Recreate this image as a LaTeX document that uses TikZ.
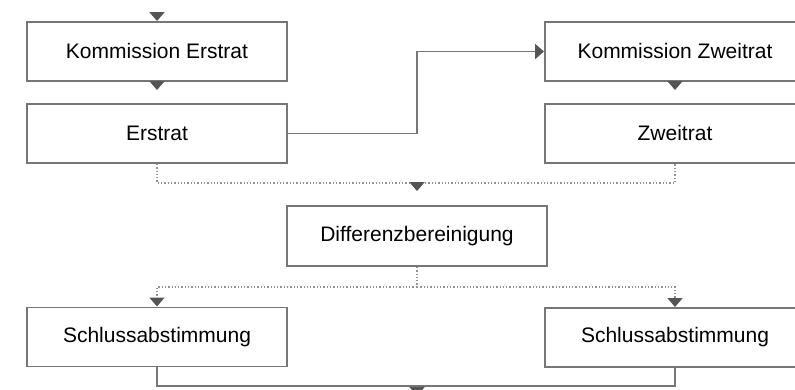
\documentclass[tikz,border=0pt]{standalone}
\usepackage{fontspec}
\setmainfont{Liberation Sans}
\usetikzlibrary{arrows.meta,positioning}

\definecolor{boxgray}{RGB}{118,118,118}
\definecolor{tipgray}{RGB}{85,85,85}
\definecolor{dotgray}{RGB}{145,145,145}

\begin{document}
\begin{tikzpicture}[x=1pt,y=1pt]
        \tikzset{stage/.style={rectangle,
                    draw=boxgray, fill=white, line width=1.9pt,
                    minimum width=260pt,
                    minimum height=59pt,
                    inner sep=0pt,
                    align=center, font=\fontsize{21}{25}\selectfont},
                 flow/.style={draw=boxgray, line width=1.9pt,
                    -{Triangle[width=15pt,length=9pt,color=tipgray]}},
                 dots/.style={draw=dotgray, line width=1.3pt, dotted}}
        \useasboundingbox (0,0) rectangle (795,390);
        % upper row
        \node[stage] (kerst) at (157,338.5) {Kommission Erstrat};
        \node[stage] (erst) at (157,256.5) {Erstrat};
        \node[stage] (kzweit) at (675,338.5) {Kommission Zweitrat};
        \node[stage] (zweit) at (675,256.5) {Zweitrat};
        % middle and lower row
        \node[stage, minimum height=60pt] (diff) at (417,154) {Differenzbereinigung};
        \node[stage] (schla) at (157,53) {Schlussabstimmung};
        \node[stage] (schlb) at (675,52.5) {Schlussabstimmung};

        \coordinate (start) at (157,377);
        \coordinate (merge) at (417,207);
        \coordinate (split) at (417,103);
        \coordinate (join) at (417,4);
        \coordinate (out) at (417,-6);

        \draw[flow] (start) -- (kerst.north);
        \draw[flow, shorten >=13pt] (kerst) -- (erst);
        \draw[flow, shorten >=13pt] (kzweit) -- (zweit);
        \draw[flow] (erst.east) -- (erst.east -| diff.north) |- (kzweit.west);

        \draw[dots] (erst.south) |- (merge) -| (zweit.south);
        \draw[flow, shorten >=14pt] (merge) -- (diff.north);

        \draw[dots] (diff.south) -- (split);
        \draw[dots, -{Triangle[width=15pt,length=9pt,color=tipgray]}] (split) -| (schla.north);
        \draw[dots, -{Triangle[width=15pt,length=9pt,color=tipgray]}] (split) -| (schlb.north);

        \draw[draw=boxgray, line width=1.9pt] (schla.south) |- (join) -| (schlb.south);
        \draw[flow] (join) -- (out);
    \end{tikzpicture}
\end{document}
